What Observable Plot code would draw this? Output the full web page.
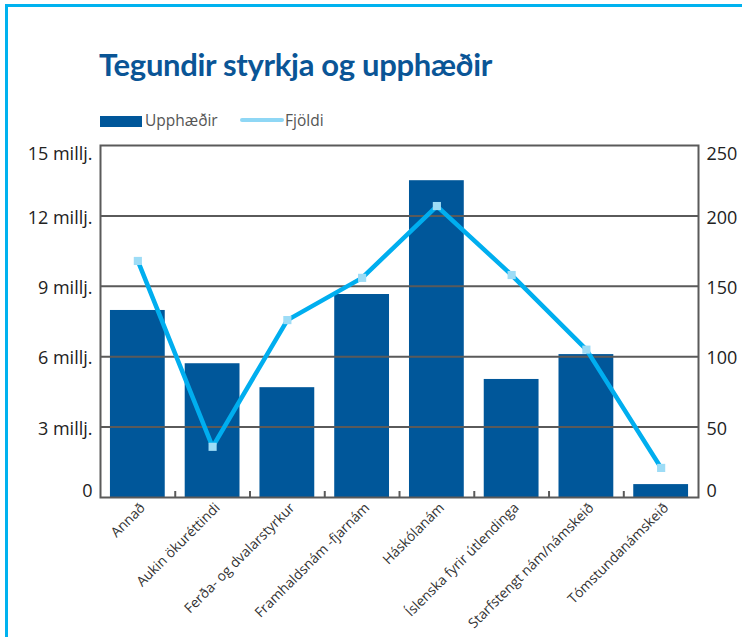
<!DOCTYPE html>
<html>
<head>
<meta charset="utf-8">
<script src="https://cdn.jsdelivr.net/npm/d3@7"></script>
<script src="https://cdn.jsdelivr.net/npm/@observablehq/plot@0.6"></script>
<style>
  html, body { margin: 0; padding: 0; background: #fff; }
  #wrap { position: relative; width: 742px; height: 637px; overflow: hidden; font-family: "Open Sans", sans-serif; }
  #border { position: absolute; left: 5px; top: 4px; width: 800px; height: 700px; border-top: 3px solid #00b2ef; border-left: 3px solid #00b2ef; }
  #title { position: absolute; left: 99px; top: 45px; font-family: Lato, sans-serif; font-weight: 700; font-size: 31px; color: #0a5596; white-space: nowrap; letter-spacing: -0.3px; }
  .leg { position: absolute; top: 109px; font-size: 15.5px; color: #555; white-space: nowrap; }
  #chart { position: absolute; left: 0; top: 0; }
</style>
</head>
<body>
<div id="wrap">
  <div id="border"></div>
  <div id="title">Tegundir styrkja og upphæðir</div>
  <div class="leg" style="left:100px;"><span style="display:inline-block;width:42px;height:11px;background:#00579a;vertical-align:-1px;"></span><span style="margin-left:3px;">Upphæðir</span></div>
  <div class="leg" style="left:240px;"><span style="display:inline-block;width:44px;height:4px;border-radius:2px;background:#8fd7f5;vertical-align:4px;"></span><span style="margin-left:1px;">Fjöldi</span></div>
  <div id="chart"></div>
</div>
<script>
// Categories
const categories = [
  "Annað",
  "Aukin ökuréttindi",
  "Ferða- og dvalarstyrkur",
  "Framhaldsnám -fjarnám",
  "Háskólanám",
  "Íslenska fyrir útlendinga",
  "Starfstengt nám/námskeið",
  "Tómstundanámskeið"
];
// Upphæðir (millions ISK)
const amounts = [7.97, 5.7, 4.68, 8.65, 13.5, 5.03, 6.09, 0.55];
// Fjöldi (count)
const counts = [168, 36, 126, 156, 207, 158, 105, 21];

// Axis ticks
const leftTicks = [0, 3, 6, 9, 12, 15];
const leftTickLabels = ["0", "3 millj.", "6 millj.", "9 millj.", "12 millj.", "15 millj."];
const rightTicks = [0, 50, 100, 150, 200, 250];
const rightTickLabels = ["0", "50", "100", "150", "200", "250"];

const leftMax = 15, rightMax = 250;
const toLeft = v => v * leftMax / rightMax;

const barData = categories.map((c, i) => ({cat: c, value: amounts[i]}));
const lineData = categories.map((c, i) => ({cat: c, count: counts[i]}));

const leftFmt = d => leftTickLabels[leftTicks.indexOf(d)];
const rightPos = rightTicks.map(toLeft);
const rightFmt = d => rightTickLabels[rightPos.findIndex(p => Math.abs(p - d) < 1e-9)];

// label groups (top label sits below its line, bottom label above)
const topT = [leftMax], botT = [0], midT = leftTicks.slice(1, -1);
const axisCommon = {tickSize: 0, tickPadding: 8, fontSize: 18, fill: "#222", label: null};

const chart = Plot.plot({
  width: 742,
  height: 637,
  marginTop: 145,
  marginBottom: 140,
  marginLeft: 100,
  marginRight: 44,
  style: {fontFamily: "'Open Sans', sans-serif", background: "transparent", overflow: "visible"},
  x: {domain: categories, paddingInner: 0.267, paddingOuter: 0.133, round: false, label: null},
  y: {domain: [0, leftMax], label: null},
  marks: [
    Plot.barY(barData, {x: "cat", y: "value", fill: "#00579a"}),
    Plot.ruleY(midT, {stroke: "#5a5a5a", strokeWidth: 2}),
    Plot.tickX(categories.slice(0, -1), {x: d => d, dx: 37.4, stroke: "#5a5a5a", strokeWidth: 2, insetTop: 346}),
    Plot.frame({stroke: "#5a5a5a", strokeWidth: 2}),
    Plot.line(lineData, {x: "cat", y: d => toLeft(d.count), stroke: "#00aeef", strokeWidth: 4.5, strokeLinejoin: "miter"}),
    Plot.dot(lineData, {x: "cat", y: d => toLeft(d.count), symbol: "square", r: 4.6, fill: "#9ddcf6", stroke: "none"}),
    // left axis
    Plot.axisY({anchor: "left", ticks: midT, tickFormat: leftFmt, dy: 2, ...axisCommon}),
    Plot.axisY({anchor: "left", ticks: topT, tickFormat: leftFmt, dy: 9, ...axisCommon}),
    Plot.axisY({anchor: "left", ticks: botT, tickFormat: leftFmt, dy: -6, ...axisCommon}),
    // right axis
    Plot.axisY({anchor: "right", ticks: midT, tickFormat: rightFmt, dy: 2, ...axisCommon}),
    Plot.axisY({anchor: "right", ticks: topT, tickFormat: rightFmt, dy: 9, ...axisCommon}),
    Plot.axisY({anchor: "right", ticks: botT, tickFormat: rightFmt, dy: -6, ...axisCommon}),
    Plot.axisX({
      anchor: "bottom", tickSize: 0, tickRotate: -45, tickPadding: 8, dx: 5,
      fontSize: 13.8, fill: "#333", label: null
    })
  ]
});
document.getElementById("chart").appendChild(chart);
</script>
</body>
</html>
